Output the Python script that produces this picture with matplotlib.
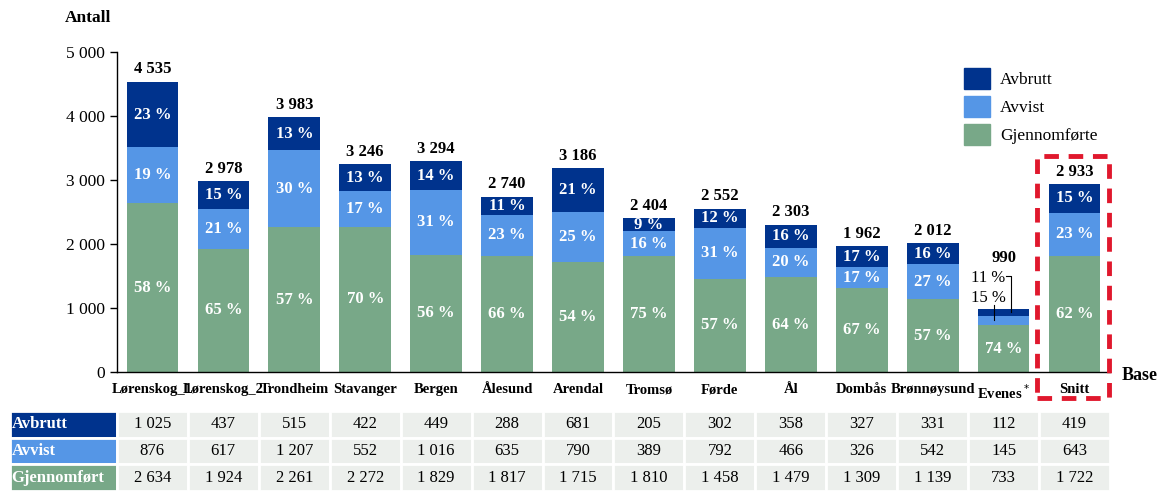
import matplotlib.pyplot as plt
from matplotlib.patches import Rectangle

plt.rcParams['font.family'] = ['Liberation Serif', 'DejaVu Serif']

steder = ['Lørenskog_1', 'Lørenskog_2', 'Trondheim', 'Stavanger', 'Bergen', 'Ålesund',
          'Arendal', 'Tromsø', 'Førde', 'Ål', 'Dombås', 'Brønnøysund', 'Evenes$^*$', 'Snitt']
avbrutt = [1025, 437, 515, 422, 449, 288, 681, 205, 302, 358, 327, 331, 112, 419]
avvist = [876, 617, 1207, 552, 1016, 635, 790, 389, 792, 466, 326, 542, 145, 643]
gjennomfort = [2634, 1924, 2261, 2272, 1829, 1817, 1715, 1810, 1458, 1479, 1309, 1139, 733, 1722]
# total shown over each bar (Snitt bar is drawn to 2 933)
base = [4535, 2978, 3983, 3246, 3294, 2740, 3186, 2404, 2552, 2303, 1962, 2012, 990, 2933]

c_avb = '#00338D'
c_avv = '#5596E6'
c_gj = '#78A888'

W, H = 1158, 491
fig = plt.figure(figsize=(W / 100, H / 100), dpi=100)
ax = fig.add_axes([117 / W, 119 / H, 993 / W, 320 / H])

def fmt(v):
    return f'{v:,}'.replace(',', ' ')

n = len(steder)
x = list(range(n))
bw = 0.73
sums = [a + b + c for a, b, c in zip(avbrutt, avvist, gjennomfort)]
# segment heights scaled to the base shown above the bar
seg_g = [g / s * b for g, s, b in zip(gjennomfort, sums, base)]
seg_v = [v / s * b for v, s, b in zip(avvist, sums, base)]
seg_a = [a / s * b for a, s, b in zip(avbrutt, sums, base)]
bot2 = [g + v for g, v in zip(seg_g, seg_v)]

ax.bar(x, seg_g, bw, color=c_gj)
ax.bar(x, seg_v, bw, bottom=seg_g, color=c_avv)
ax.bar(x, seg_a, bw, bottom=bot2, color=c_avb)

lab = dict(ha='center', va='center', color='white', fontsize=12, fontweight='bold')
for i in x:
    s = sums[i]
    p_g = round(100 * gjennomfort[i] / s)
    p_v = round(100 * avvist[i] / s)
    p_a = round(100 * avbrutt[i] / s)
    ax.text(i, seg_g[i] / 2, f'{p_g} %', **lab)
    if i == 12:
        ax.text(i, 1780, fmt(base[i]), ha='center', va='center', fontsize=12, fontweight='bold')
        ax.text(i - 0.22, 1470, f'{p_a} %', ha='center', va='center', fontsize=12)
        ax.text(i - 0.22, 1160, f'{p_v} %', ha='center', va='center', fontsize=12)
        ax.plot([i + 0.04, i + 0.11, i + 0.11], [1500, 1500, bot2[i] + seg_a[i] / 2],
                color='black', lw=0.8)
        ax.plot([i - 0.14, i - 0.14], [1040, seg_g[i] + seg_v[i] / 2],
                color='black', lw=0.8)
    else:
        ax.text(i, base[i] + 70, fmt(base[i]), ha='center', va='bottom',
                fontsize=12, fontweight='bold')
        ax.text(i, seg_g[i] + seg_v[i] / 2, f'{p_v} %', **lab)
        ax.text(i, bot2[i] + seg_a[i] / 2, f'{p_a} %', **lab)

ax.set_xlim(-0.5, n - 0.5)
ax.set_ylim(0, 5000)
ax.set_yticks(range(0, 5001, 1000))
ax.set_yticklabels([fmt(v) for v in range(0, 5001, 1000)], fontsize=12.5)
ax.set_xticks(x)
ax.set_xticklabels(steder, fontsize=10.5, fontweight='bold')
ax.tick_params(axis='x', length=0, pad=8)
ax.tick_params(axis='y', length=5, width=1)
for sp in ['top', 'right']:
    ax.spines[sp].set_visible(False)
ax.spines['left'].set_linewidth(1)
ax.spines['bottom'].set_linewidth(1)

fig.text(65 / W, 1 - 18 / H, 'Antall', fontsize=12.5, fontweight='bold', va='center')
fig.text(1122 / W, 1 - 375 / H, 'Base', fontsize=13, fontweight='bold', va='center')

handles = [Rectangle((0, 0), 1, 1, color=c) for c in [c_avb, c_avv, c_gj]]
fig.legend(handles, ['Avbrutt', 'Avvist', 'Gjennomførte'], loc='upper left',
           bbox_to_anchor=(948 / W, 1 - 52 / H), frameon=False, fontsize=12.5,
           handlelength=1.5, handleheight=1.5, labelspacing=0.4, handletextpad=0.6)

# red dashed box around Snitt
fig.patches.append(Rectangle((1037 / W, 1 - 398 / H), 72 / W, 242 / H,
                             transform=fig.transFigure, fill=False, edgecolor='#E0182D',
                             lw=3.5, linestyle=(0, (3, 2)), zorder=10))

# table
tab = fig.add_axes([10 / W, 0, 1100 / W, 80 / H])
left = -0.5 - 107 / 71
tab.set_xlim(left, n - 0.5)
tab.set_ylim(0, 3)
tab.axis('off')
rows = [('Avbrutt', avbrutt, c_avb), ('Avvist', avvist, c_avv),
        ('Gjennomført', gjennomfort, c_gj)]
for r, (name, vals, col) in enumerate(rows):
    yb = 2 - r
    tab.add_patch(Rectangle((left, yb), -0.5 - left, 1, facecolor=col,
                            edgecolor='white', lw=2))
    tab.text(left + 0.02, yb + 0.5, name, color='white', fontsize=12,
             fontweight='bold', va='center', ha='left')
    for i in x:
        tab.add_patch(Rectangle((i - 0.5, yb), 1, 1, facecolor='#ECEFEC',
                                edgecolor='white', lw=2))
        tab.text(i, yb + 0.5, fmt(vals[i]), fontsize=12, ha='center', va='center')

fig.savefig('out.png', dpi=100)
